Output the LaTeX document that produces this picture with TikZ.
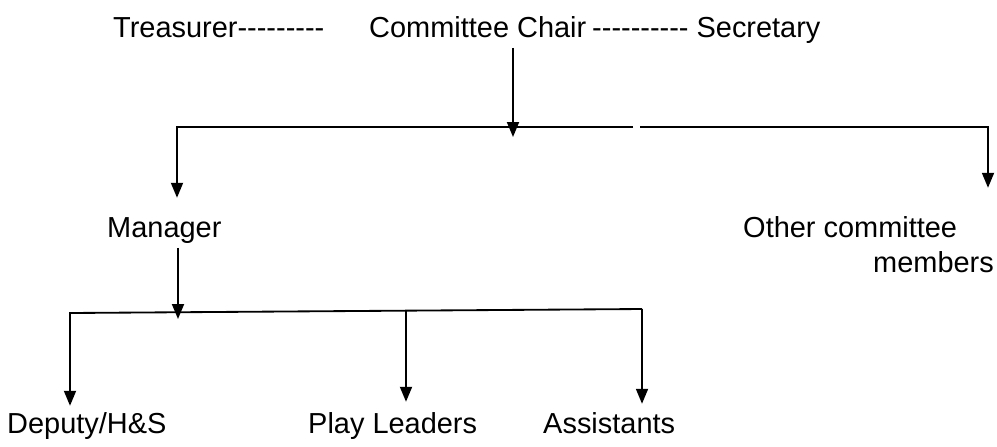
\documentclass[tikz,border=0pt]{standalone}
\usepackage{fontspec}
\newfontfamily\orgfont{Liberation Sans}
\usepackage{tikz}
\usetikzlibrary{arrows.meta}
\tikzset{
  orgLabel/.style={anchor=base west, font=\orgfont\fontsize{24.7}{29.8}\selectfont, inner xsep=0pt, inner ysep=1mm, text height=6.5mm, text depth=2.2mm},
  orgArrow/.style={-{Triangle[length=4.5mm, width=3.6mm]}, line width=0.55mm},
  orgLine/.style={line width=0.55mm}
}

\begin{document}
\begin{tikzpicture}
  \useasboundingbox (0,0) rectangle (29.91,-13.38);
  % top row
  \node[orgLabel] (treasurer) at (3.39,-1.11) {Treasurer---------};
  \node[orgLabel] (chair) at (11.07,-1.11) {Committee Chair};
  \node[orgLabel] (secretary) at (17.76,-1.11) {---------- Secretary};
  % middle row
  \node[orgLabel] (manager) at (3.21,-7.11) {Manager};
  \node[orgLabel, align=left] (others) at (22.29,-8.16) {Other committee\\\hspace*{3.9cm}members};
  % bottom row
  \node[orgLabel] (deputy) at (0.21,-12.99) {Deputy/H\&S};
  \node[orgLabel] (play) at (9.24,-12.99) {Play Leaders};
  \node[orgLabel] (assistants) at (16.29,-12.99) {Assistants};
  % junctions
  \coordinate (chairTip) at (15.39,-4.11);
  \coordinate (barL) at (5.31,-3.81);
  \coordinate (gapL) at (18.99,-3.81);
  \coordinate (gapR) at (19.20,-3.81);
  \coordinate (barR) at (29.64,-3.81);
  \coordinate (mgrTip) at (5.34,-9.57);
  \coordinate (lowL) at (2.10,-9.39);
  \coordinate (lowMid) at (12.18,-9.32);
  \coordinate (lowR) at (19.26,-9.27);
  \draw[orgArrow] (chair.south -| chairTip) -- (chairTip);
  \draw[orgArrow, shorten >=4.2mm] (gapL) -- (barL) -- (barL |- manager.north);
  \draw[orgArrow, shorten >=17.7mm] (gapR) -- (barR) -- (barR |- others.north);
  \draw[orgArrow] (manager.south -| mgrTip) -- (mgrTip);
  \draw[orgArrow, shorten >=0.6mm] (lowR) -- (lowL) -- (lowL |- deputy.north);
  \draw[orgArrow, shorten >=1.8mm] (lowMid) -- (lowMid |- play.north);
  \draw[orgArrow, shorten >=1.2mm] (lowR) -- (lowR |- assistants.north);
\end{tikzpicture}
\end{document}
